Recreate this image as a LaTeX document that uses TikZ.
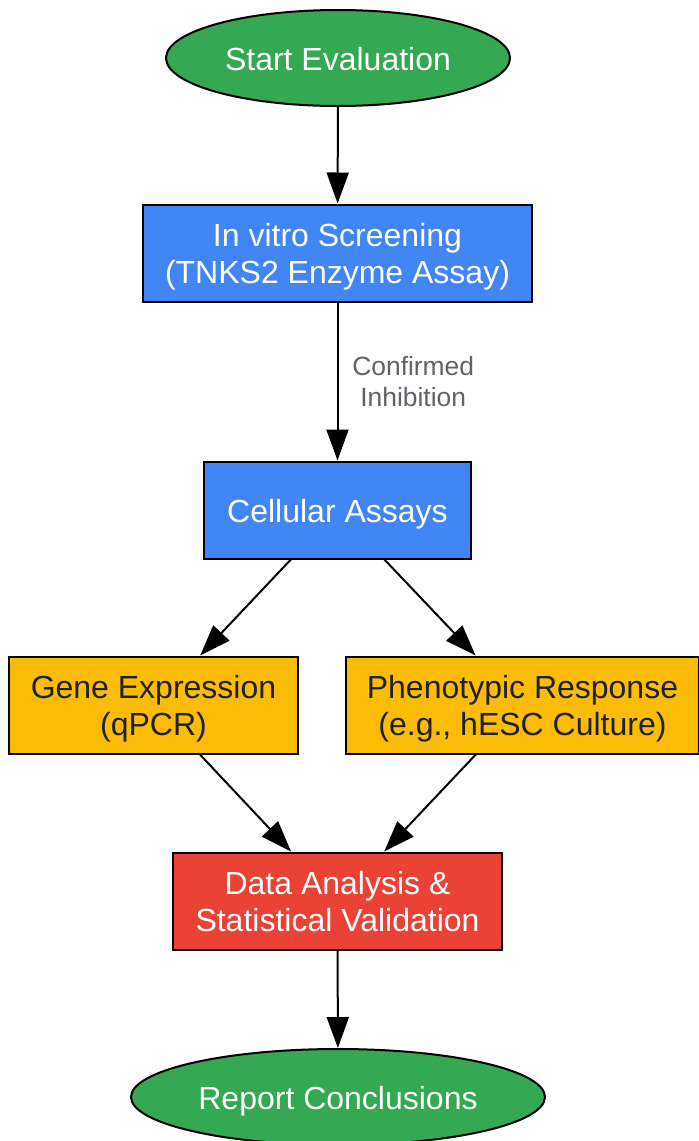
\documentclass[tikz,border=0pt]{standalone}
\usepackage{fontspec}
\setmainfont{Liberation Sans}
\usetikzlibrary{arrows.meta}
\usetikzlibrary{shapes.geometric}

\definecolor{gstart}{HTML}{34A853}
\definecolor{gblue}{HTML}{4285F4}
\definecolor{gyellow}{HTML}{FBBC05}
\definecolor{gred}{HTML}{EA4335}
\definecolor{gdark}{HTML}{202124}
\definecolor{ggray}{HTML}{5F6368}

\tikzset{
  terminal/.style={ellipse, draw=black, line width=2pt, fill=gstart, text=white,
    inner sep=0pt, minimum height=96pt, text height=32pt, text depth=7pt},
  stepbox/.style={rectangle, draw=black, line width=2pt, align=center,
    inner sep=0pt, minimum height=97pt, text height=32pt, text depth=7pt},
  twoline/.style={text height=68pt, text depth=7pt},
  flow/.style={line width=2pt, -{Triangle[length=31pt,width=22pt]}},
  every node/.style={font=\fontsize{32}{37}\selectfont},
}

\begin{document}
\begin{tikzpicture}[x=1pt,y=-1pt]
  \useasboundingbox (0,0) rectangle (699,1141);

  \node [terminal, minimum width=344pt] (start) at (338,58) {Start Evaluation};
  \node [stepbox, twoline, fill=gblue, text=white, minimum width=389pt] (screen) at (337.5,253)
    {In vitro Screening\\(TNKS2 Enzyme Assay)};
  \node [stepbox, fill=gblue, text=white, minimum width=267pt] (cell) at (337.5,510)
    {Cellular Assays};
  \node [stepbox, twoline, fill=gyellow, text=gdark, minimum width=289pt] (gene) at (153.5,705)
    {Gene Expression\\(qPCR)};
  \node [stepbox, twoline, fill=gyellow, text=gdark, minimum width=353pt] (pheno) at (522.5,705)
    {Phenotypic Response\\(e.g., hESC Culture)};
  \node [stepbox, twoline, fill=gred, text=white, minimum width=329pt] (data) at (337.5,901)
    {Data Analysis \&\\Statistical Validation};
  \node [terminal, minimum width=414pt] (report) at (338,1097) {Report Conclusions};

  \draw [flow] (start) -- (screen);
  \draw [flow] (screen) -- node [right, xshift=10.5pt, align=center, text=ggray,
    font=\fontsize{26.4}{31}\selectfont] {Confirmed\\Inhibition} (cell);
  \draw [flow] (cell) -- (gene);
  \draw [flow] (cell) -- (pheno);
  \draw [flow] (gene) -- (data);
  \draw [flow] (pheno) -- (data);
  \draw [flow] (data) -- (report);
\end{tikzpicture}
\end{document}
